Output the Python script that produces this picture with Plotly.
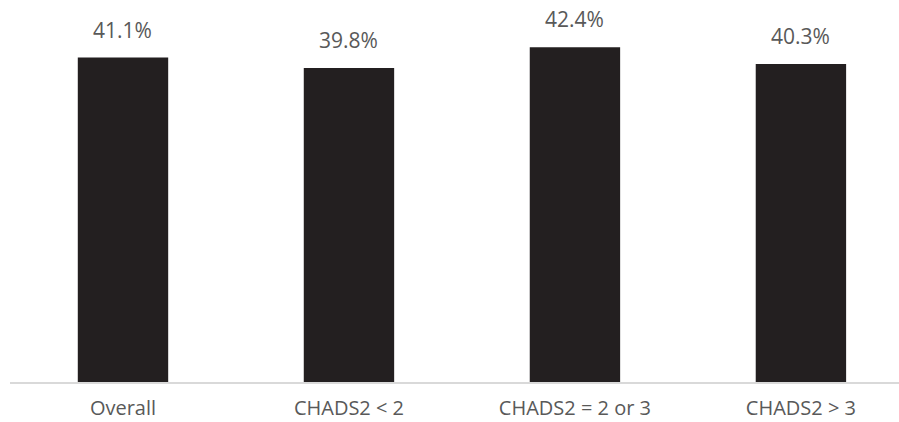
import plotly.graph_objects as go

# Share of patients by CHADS2 stroke-risk group (%)
categories = ["Overall", "CHADS2 < 2", "CHADS2 = 2 or 3", "CHADS2 > 3"]
values = [41.1, 39.8, 42.4, 40.3]
labels = [f"{v:.1f}%" for v in values]

BAR = "#231f20"
TEXT = "#595959"
FONT = "Open Sans"

fig = go.Figure(
    go.Bar(
        x=categories,
        y=values,
        width=0.4,
        marker=dict(color=BAR, line=dict(width=0)),
        hoverinfo="skip",
    )
)

# Value labels sitting above each bar
for c, v, t in zip(categories, values, labels):
    fig.add_annotation(
        x=c, y=v, text=t, showarrow=False,
        yanchor="bottom", yshift=12,
        font=dict(family=FONT, size=21, color=TEXT),
    )

fig.update_layout(
    width=899,
    height=422,
    margin=dict(l=10, r=0, t=0, b=40),
    paper_bgcolor="white",
    plot_bgcolor="white",
    showlegend=False,
    xaxis=dict(
        range=[-0.5, 3.434],
        automargin=False,
        showline=True,
        linecolor="#d9d9d9",
        linewidth=2,
        ticks="",
        showgrid=False,
        tickfont=dict(family=FONT, size=20, color=TEXT),
        ticklabelstandoff=7,
    ),
    yaxis=dict(
        range=[0, 48.4],
        visible=False,
        showgrid=False,
        zeroline=False,
    ),
)

fig.write_html("out.html")
